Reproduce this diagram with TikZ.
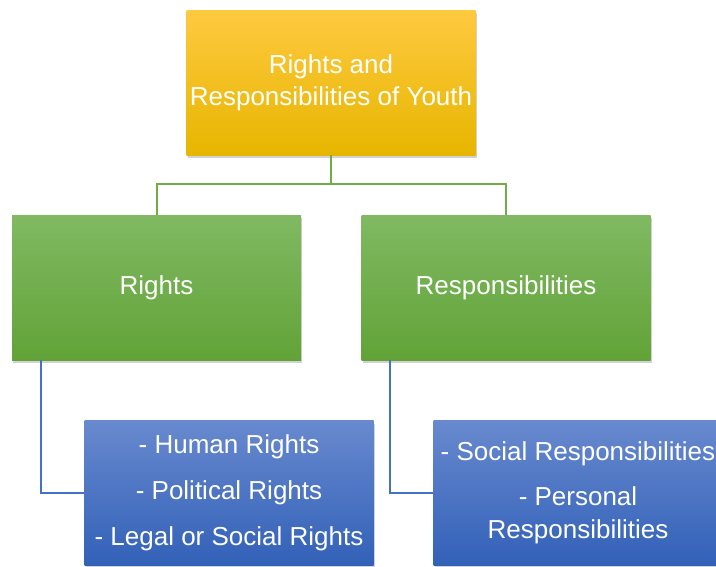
\documentclass[tikz,border=0pt]{standalone}
\usepackage{fontspec}
\setmainfont{Liberation Sans}
\usepackage{xcolor}
\usetikzlibrary{shadows}
\definecolor{goldtop}{RGB}{255,201,64}
\definecolor{goldbot}{RGB}{230,182,0}
\definecolor{greentop}{RGB}{128,185,98}
\definecolor{greenbot}{RGB}{98,163,56}
\definecolor{bluetop}{RGB}{104,137,206}
\definecolor{bluebot}{RGB}{50,97,184}
\definecolor{linegreen}{RGB}{112,173,71}
\definecolor{lineblue}{RGB}{68,114,196}

\tikzset{
  box/.style={rectangle, minimum width=289pt, minimum height=145pt, inner sep=0pt,
    text=white, align=center, font=\fontsize{26}{32}\selectfont,
    drop shadow={opacity=0.35, shadow xshift=1pt, shadow yshift=-3pt}},
  goldbox/.style={box, top color=goldtop, bottom color=goldbot},
  greenbox/.style={box, top color=greentop, bottom color=greenbot},
  bluebox/.style={box, top color=bluetop, bottom color=bluebot},
  greenline/.style={draw=linegreen, line width=2pt},
  blueline/.style={draw=lineblue, line width=2pt}
}

\begin{document}
\begin{tikzpicture}[x=1pt, y=-1pt]
  \clip (0,0) rectangle (716,566);
  \fill[white] (0,0) rectangle (716,566);

  % Title
  \node[goldbox] (youth) at (331, 82.5) {Rights and\\Responsibilities of Youth};

  % Second level
  \node[greenbox] (rights) at (156.5, 287.5) {Rights};
  \node[greenbox] (resp) at (506, 287.5) {Responsibilities};

  % Lists
  \node[bluebox] (rlist) at (229, 493) {- Human Rights\\[14pt]- Political Rights\\[14pt]- Legal or Social Rights};
  \node[bluebox] (plist) at (578, 493) {- Social Responsibilities\\[13pt]- Personal\\[1pt]Responsibilities};

  \draw[greenline] (youth.south) -- ++(0,29) -| (rights.north);
  \draw[greenline] (youth.south) -- ++(0,29) -| (resp.north);
  \draw[blueline] ([xshift=29pt]rights.south west) |- (rlist.west);
  \draw[blueline] ([xshift=29pt]resp.south west) |- (plist.west);
\end{tikzpicture}
\end{document}
